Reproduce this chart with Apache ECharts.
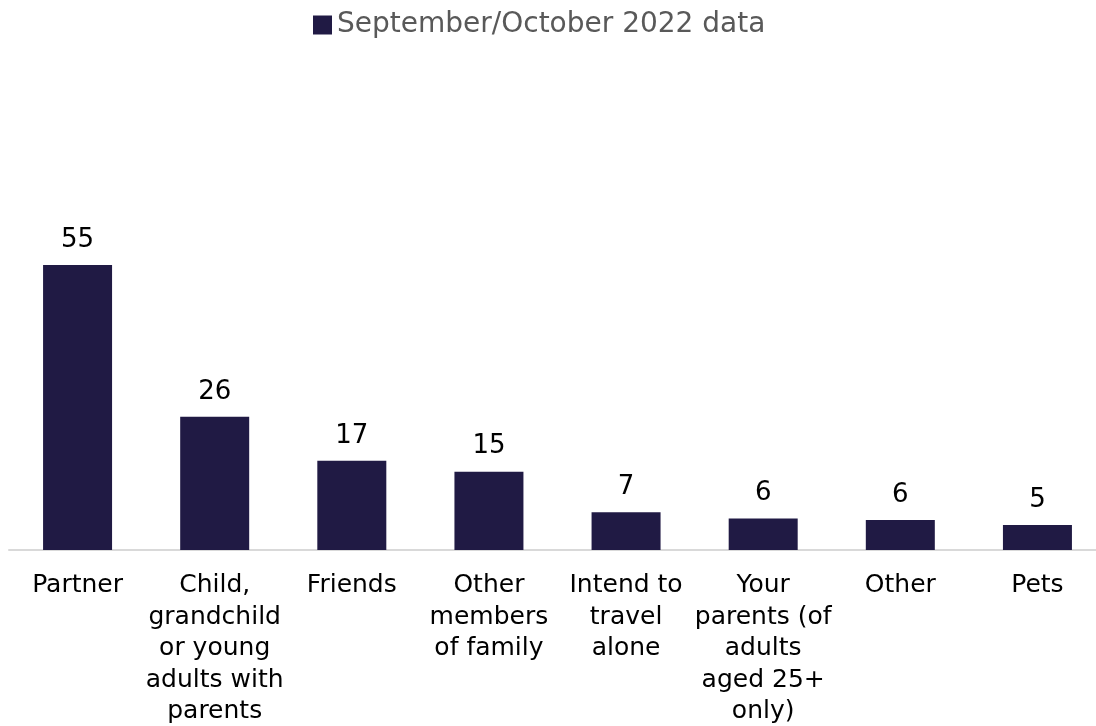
<!DOCTYPE html>
<html>
<head>
<meta charset="utf-8">
<style>
html,body{margin:0;padding:0;background:#fff;}
#chart{width:1096px;height:726px;}
</style>
<script src="https://cdn.jsdelivr.net/npm/echarts@6/dist/echarts.min.js"></script>
</head>
<body>
<div id="chart"></div>
<script>
const categories = [
  "Partner",
  "Child,\ngrandchild\nor young\nadults with\nparents",
  "Friends",
  "Other\nmembers\nof family",
  "Intend to\ntravel\nalone",
  "Your\nparents (of\nadults\naged 25+\nonly)",
  "Other",
  "Pets"
];
const seriesName = "September/October 2022 data";
const values = [55, 25.7, 17.2, 15.1, 7.3, 6.1, 5.8, 4.8];

const chart = echarts.init(document.getElementById('chart'));
chart.setOption({
  animation: false,
  textStyle: { fontFamily: 'DejaVu Sans' },
  legend: {
    data: [seriesName],
    left: 308,
    top: 6,
    itemWidth: 19,
    itemHeight: 19,
    itemGap: 10,
    icon: 'rect',
    textStyle: { fontSize: 28, color: '#595959', fontFamily: 'DejaVu Sans' }
  },
  grid: { left: 9, width: 1097, top: 239, bottom: 176, containLabel: false, outerBoundsMode: 'none' },
  xAxis: {
    type: 'category',
    data: categories,
    axisLine: { show: true, lineStyle: { color: '#D9D9D9', width: 2 } },
    axisTick: { show: false },
    axisLabel: {
      interval: 0,
      margin: 20,
      fontSize: 25,
      lineHeight: 31.5,
      color: '#000',
      align: 'center',
      fontFamily: 'DejaVu Sans'
    }
  },
  yAxis: {
    type: 'value',
    min: 0,
    max: 60,
    show: false,
    splitLine: { show: false }
  },
  series: [{
    name: seriesName,
    type: 'bar',
    data: values,
    barWidth: 69,
    itemStyle: { color: '#201A44' },
    label: {
      show: true,
      position: 'top',
      distance: 12,
      fontSize: 26,
      color: '#000',
      fontFamily: 'DejaVu Sans',
      formatter: p => Math.round(p.value)
    }
  }]
});
</script>
</body>
</html>
